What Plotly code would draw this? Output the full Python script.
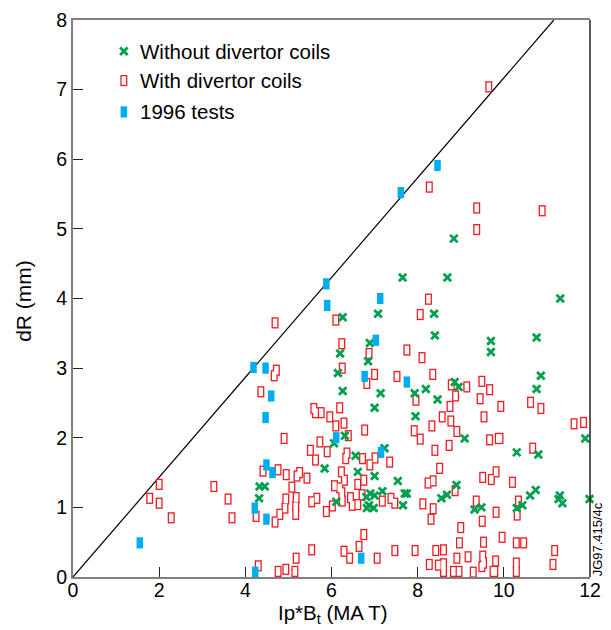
import plotly.graph_objects as go

# ---- data ----
without_x = [4.33, 4.45, 4.32, 5.84, 6.06, 6.31, 6.56, 6.61, 6.11,
             6.26, 6.20, 6.15, 6.26, 6.89, 6.85, 7.08, 7.14, 7.00,
             7.65, 8.69, 8.84,
             8.38, 8.40, 9.70, 9.70, 10.76, 11.31,
             7.93, 8.19, 8.46, 8.86, 8.95, 10.86, 10.76, 7.95, 9.09, 11.89,
             7.23, 7.00, 7.54, 8.90, 8.55, 8.68,
             6.90, 6.81, 7.00, 6.87, 6.98, 6.82, 7.18, 7.70, 7.75, 7.66,
             9.32, 9.48,
             10.30, 10.80, 10.74, 10.61, 11.30, 11.27, 11.36, 11.99, 10.30, 10.43]
without_y = [1.30, 1.30, 1.13, 1.56, 1.92, 2.03, 1.74, 1.51, 1.08,
             3.73, 3.21, 2.93, 2.67, 3.36, 3.10, 3.78, 2.64, 2.43,
             4.30, 4.30, 4.86,
             3.78, 3.47, 3.39, 3.23, 3.44, 4.00,
             2.64, 2.70, 2.55, 2.80, 2.73, 2.89, 2.70, 2.31, 1.99, 1.99,
             1.85, 1.45, 1.38, 1.32, 1.13, 1.18,
             1.20, 1.15, 1.17, 1.03, 0.99, 0.99, 1.23, 1.20, 1.20, 1.03,
             0.97, 1.00,
             1.79, 1.76, 1.25, 1.17, 1.17, 1.12, 1.06, 1.12, 0.99, 1.03]

with_x = [9.65, 8.27, 9.37, 9.37, 10.89,
          8.25, 8.06, 7.75, 8.10, 7.52, 8.35, 7.96, 8.78, 8.88, 9.14, 8.75, 9.49, 9.67, 9.45, 9.93,
          9.54, 10.62, 10.86, 8.57, 8.33, 8.77, 8.91, 7.92, 8.06, 9.67, 9.87, 9.91, 11.63, 11.85,
          4.69, 6.10, 6.24, 6.87, 4.72, 4.67, 6.25, 7.00, 6.82, 4.36, 5.59, 5.63, 5.76, 5.96, 6.19,
          6.10, 6.29, 6.77,
          4.90, 5.51, 5.73, 5.63, 5.90, 6.39, 6.36, 6.33, 6.72, 6.61, 6.71, 6.23, 6.30, 6.07, 6.19,
          6.24, 6.25, 6.44, 6.48, 6.61, 6.02, 5.88, 5.54, 5.66, 4.41, 4.76, 4.95, 5.20, 5.26, 5.43,
          5.08, 4.94, 5.18, 4.92, 5.17, 5.17, 4.25, 4.69, 4.80, 5.54, 5.18, 4.30, 4.76, 4.94, 5.15,
          6.16, 6.55, 6.29, 6.42, 6.64, 6.75,
          7.01, 6.89, 7.35, 6.75, 8.40, 8.73, 8.51, 8.24, 8.36, 8.87, 7.18, 7.38, 7.47, 8.12, 8.36,
          8.31, 9.36, 9.50, 9.51, 7.06, 7.47, 7.94, 8.42, 8.60, 9.00, 8.97, 8.91, 9.17, 9.53, 9.51,
          8.27, 8.48, 8.60, 8.60, 8.83, 8.96, 9.29, 9.49, 8.22, 8.60,
          10.67, 9.82, 9.71, 10.20, 10.34, 10.31, 9.82, 9.96, 10.29, 10.46, 11.18, 11.14, 9.53,
          9.81, 9.79, 9.75, 10.29, 10.29,
          2.00, 1.78, 2.00, 2.28, 3.27, 3.60, 3.69]
with_y = [7.04, 5.60, 5.30, 4.99, 5.26,
          3.99, 3.77, 3.26, 3.15, 2.88, 2.91, 2.54, 2.76, 2.60, 2.73, 2.45, 2.81, 2.69, 2.56, 2.45,
          2.30, 2.51, 2.42, 2.30, 2.17, 2.24, 2.09, 2.10, 1.98, 1.97, 1.99, 1.99, 2.20, 2.22,
          3.65, 3.69, 3.35, 3.21, 2.97, 2.89, 3.00, 2.91, 2.78, 2.66, 2.42, 2.36, 2.36, 2.30, 2.43,
          2.17, 2.21, 2.11,
          1.99, 1.82, 1.94, 1.68, 1.80, 2.03, 1.78, 1.70, 1.70, 1.33, 1.18, 1.51, 1.39, 1.31, 1.28,
          1.21, 1.09, 1.14, 1.03, 1.04, 1.02, 0.94, 1.08, 1.13, 1.52, 1.54, 1.47, 1.45, 1.50, 1.42,
          1.29, 1.12, 1.14, 0.99, 1.01, 0.90, 0.87, 0.79, 0.90, 0.39, 0.27, 0.16, 0.08, 0.11, 0.08,
          -0.02, -0.02, 0.37, 0.27, 0.44, 0.61,
          1.71, 1.61, 1.65, 1.39, 1.82, 1.89, 1.56, 1.35, 1.38, 1.24, 1.09, 1.13, 1.06, 1.05, 0.98,
          0.83, 1.09, 0.80, 1.43, 0.27, 0.38, 0.38, 0.38, 0.39, 0.71, 0.49, 0.27, 0.29, 0.50, 0.30,
          0.18, 0.17, 0.19, 0.08, 0.08, 0.08, 0.07, 0.15, -0.01, -0.01,
          1.85, 1.51, 1.40, 1.36, 1.09, 0.89, 0.93, 0.57, 0.49, 0.49, 0.38, 0.18, 0.20,
          0.23, 0.08, 0.08, 0.20, 0.08,
          1.33, 1.13, 1.06, 0.85, 1.30, 1.12, 0.85]

tests_x = [1.55, 4.22, 4.23, 4.49, 4.49, 4.63, 4.47, 4.60, 4.19, 4.47, 5.88, 5.90,
           7.13, 7.03, 6.77, 7.75, 6.11, 7.15, 6.69, 7.61, 8.46]
tests_y = [0.49, 0.99, 0.07, 0.83, 1.61, 1.50, 2.29, 2.60, 3.01, 3.00, 4.21, 3.90,
           4.00, 3.40, 2.88, 2.80, 2.00, 1.79, 0.27, 5.52, 5.91]

limit_x = [0, 11.16]
limit_y = [0, 8]

legend_labels = ["Without divertor coils", "With divertor coils", "1996 tests"]
x_title = "Ip*B<sub>t</sub> (MA T)"
y_title = "dR (mm)"

GREEN = "#00a04f"
RED = "#ec1c24"
BLUE = "#00aeef"
FONT = "Liberation Sans, Arial, sans-serif"

# legend placement (data units)
LEG_SYM_X = 1.18
LEG_TXT_X = 1.52
LEG_Y = [7.55, 7.13, 6.68]

fig = go.Figure()

# limit line
fig.add_trace(go.Scatter(x=limit_x, y=limit_y, mode="lines",
                         line=dict(color="black", width=1.2), hoverinfo="skip",
                         showlegend=False))

def red_box(xs, ys):
    fig.add_trace(go.Scatter(x=xs, y=ys, mode="markers", cliponaxis=False, showlegend=False,
                             marker=dict(symbol="line-ns", size=8, color=RED,
                                         line=dict(color=RED, width=7))))
    fig.add_trace(go.Scatter(x=xs, y=ys, mode="markers", cliponaxis=False, showlegend=False,
                             hoverinfo="skip",
                             marker=dict(symbol="line-ns", size=6.1, color="white",
                                         line=dict(color="white", width=4.4))))

def green_x(xs, ys):
    fig.add_trace(go.Scatter(x=xs, y=ys, mode="markers", cliponaxis=False, showlegend=False,
                             marker=dict(symbol="x-thin", size=7.5, color=GREEN,
                                         line=dict(color=GREEN, width=2.8))))

def blue_bar(xs, ys):
    fig.add_trace(go.Scatter(x=xs, y=ys, mode="markers", cliponaxis=False, showlegend=False,
                             marker=dict(symbol="line-ns", size=8, color=BLUE,
                                         line=dict(color=BLUE, width=6.5))))

red_box(with_x, with_y)
green_x(without_x, without_y)
blue_bar(tests_x, tests_y)

# legend
green_x([LEG_SYM_X], [LEG_Y[0]])
red_box([LEG_SYM_X], [LEG_Y[1]])
blue_bar([LEG_SYM_X], [LEG_Y[2]])
for lab, ly in zip(legend_labels, LEG_Y):
    fig.add_annotation(x=LEG_TXT_X, y=ly, text=lab, showarrow=False, xanchor="left",
                       yanchor="middle", font=dict(family=FONT, size=20.5, color="black"))

# axis titles
fig.add_annotation(xref="paper", yref="paper", x=0.502, y=-0.066, text=x_title,
                   showarrow=False, xanchor="center", yanchor="middle",
                   font=dict(family=FONT, size=20.5, color="black"))
fig.add_annotation(xref="paper", yref="paper", x=-0.097, y=0.4955, text=y_title,
                   textangle=-90, showarrow=False, xanchor="center", yanchor="middle",
                   font=dict(family=FONT, size=21, color="black"))

fig.add_annotation(xref="paper", yref="paper", x=1.014, y=0.068, text="JG97.415/4c",
                   textangle=-90, showarrow=False, xanchor="center", yanchor="middle",
                   font=dict(family=FONT, size=13, color="black"))

# right border
fig.add_shape(type="line", xref="paper", yref="paper", x0=1, x1=1, y0=0, y1=1,
              line=dict(color="black", width=1.3))

fig.update_layout(
    width=611, height=630,
    margin=dict(l=73, r=21, t=20, b=53, autoexpand=False),
    paper_bgcolor="white", plot_bgcolor="white",
    showlegend=False,
    font=dict(family=FONT, size=20, color="black"),
)
fig.update_xaxes(range=[0, 12], tickvals=[0, 2, 4, 6, 8, 10, 12], ticks="inside", ticklen=10,
                 tickwidth=1.3, tickcolor="#222", showgrid=False, zeroline=False,
                 showline=True, linecolor="#808080", linewidth=2, mirror=True,
                 tickfont=dict(size=19.5), ticklabelstandoff=-5, automargin=False)
fig.update_yaxes(range=[0, 8], tickvals=list(range(0, 9)), ticks="inside", ticklen=10,
                 tickwidth=1.3, tickcolor="#222", showgrid=False, zeroline=False,
                 showline=True, linecolor="#808080", linewidth=2, automargin=False,
                 tickfont=dict(size=19.5))

fig.write_html("out.html")
